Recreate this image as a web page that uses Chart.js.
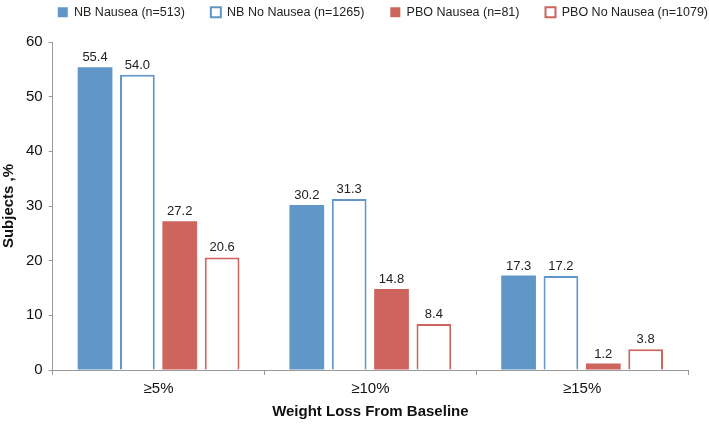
<!DOCTYPE html>
<html><head><meta charset="utf-8">
<script src="https://cdn.jsdelivr.net/npm/chart.js@4"></script>
<style>html,body{margin:0;padding:0;background:#fff;overflow:hidden}#wrap{width:734px;height:424px}</style>
</head><body><div id="wrap"><canvas id="c"></canvas></div>
<script>
const categories = ['≥5%', '≥10%', '≥15%'];
const nbNausea = [55.4, 30.2, 17.3];
const nbNoNausea = [54.0, 31.3, 17.2];
const pboNausea = [27.2, 14.8, 1.2];
const pboNoNausea = [20.6, 8.4, 3.8];
const seriesLabels = ['NB Nausea (n=513)', 'NB No Nausea (n=1265)', 'PBO Nausea (n=81)', 'PBO No Nausea (n=1079)'];
const yTicks = [0, 10, 20, 30, 40, 50, 60];

const BLUE = '#6096C8', RED = '#CD645E';
const FONT = "'Liberation Sans', Arial, sans-serif";
const LEGEND_TOP = -20, LEGEND_H = 62;

const legendSize = {
  id: 'legendSize',
  beforeUpdate(chart) {
    const lg = chart.legend;
    if (lg && !lg._sized) {
      const f = lg.fit;
      lg.fit = function () { f.call(this); this.height = LEGEND_H; };
      lg._sized = true;
    }
  }
};

const valueLabels = {
  id: 'valueLabels',
  afterDatasetsDraw(chart) {
    const ctx = chart.ctx;
    ctx.save();
    ctx.font = '13px ' + FONT;
    ctx.fillStyle = '#222';
    ctx.textAlign = 'center';
    ctx.textBaseline = 'bottom';
    chart.data.datasets.forEach((ds, i) => {
      chart.getDatasetMeta(i).data.forEach((bar, j) => {
        ctx.fillText(ds.data[j].toFixed(1), bar.x, bar.y - 3);
      });
    });
    ctx.restore();
  }
};

new Chart(document.getElementById('c'), {
  type: 'bar',
  data: {
    labels: categories,
    datasets: [
      {label: seriesLabels[0], data: nbNausea, backgroundColor: BLUE, borderColor: BLUE, borderWidth: 0},
      {label: seriesLabels[1], data: nbNoNausea, backgroundColor: '#fff', borderColor: BLUE, borderWidth: 2},
      {label: seriesLabels[2], data: pboNausea, backgroundColor: RED, borderColor: RED, borderWidth: 0},
      {label: seriesLabels[3], data: pboNoNausea, backgroundColor: '#fff', borderColor: RED, borderWidth: 2}
    ]
  },
  options: {
    responsive: true,
    maintainAspectRatio: false,
    animation: false,
    datasets: {bar: {categoryPercentage: 0.8, barPercentage: 0.82}},
    layout: {padding: {left: 0, right: 0, top: LEGEND_TOP, bottom: 0}},
    plugins: {
      legend: {
        position: 'top',
        align: 'end',
        labels: {
          font: {family: FONT, size: 12.5},
          color: '#222',
          boxWidth: 10, boxHeight: 10,
          padding: 26
        }
      },
      tooltip: {enabled: false}
    },
    scales: {
      x: {
        grid: {display: true, drawOnChartArea: false, drawTicks: true, tickLength: 5, color: '#999', offset: true},
        border: {color: '#999', width: 1},
        ticks: {font: {family: FONT, size: 15}, color: '#111', padding: 5},
        title: {display: true, text: 'Weight Loss From Baseline', font: {family: FONT, size: 15, weight: 'bold'}, color: '#111', padding: {top: 0, bottom: 3}}
      },
      y: {
        min: 0, max: 60,
        afterBuildTicks(axis) { axis.ticks = yTicks.map(v => ({value: v})); },
        grid: {display: true, drawOnChartArea: false, drawTicks: true, tickLength: 4, color: '#999'},
        border: {color: '#999', width: 1},
        ticks: {font: {family: FONT, size: 15}, color: '#111', padding: 6},
        title: {display: true, text: 'Subjects ,%', font: {family: FONT, size: 15, weight: 'bold'}, color: '#111', padding: {top: 0, bottom: 2}}
      },
      yRight: {
        type: 'linear',
        position: 'right',
        display: true,
        grid: {display: false, drawTicks: false},
        border: {display: false},
        ticks: {display: false},
        afterFit(s) { s.width = 46; }
      }
    }
  },
  plugins: [legendSize, valueLabels]
});
</script></body></html>
